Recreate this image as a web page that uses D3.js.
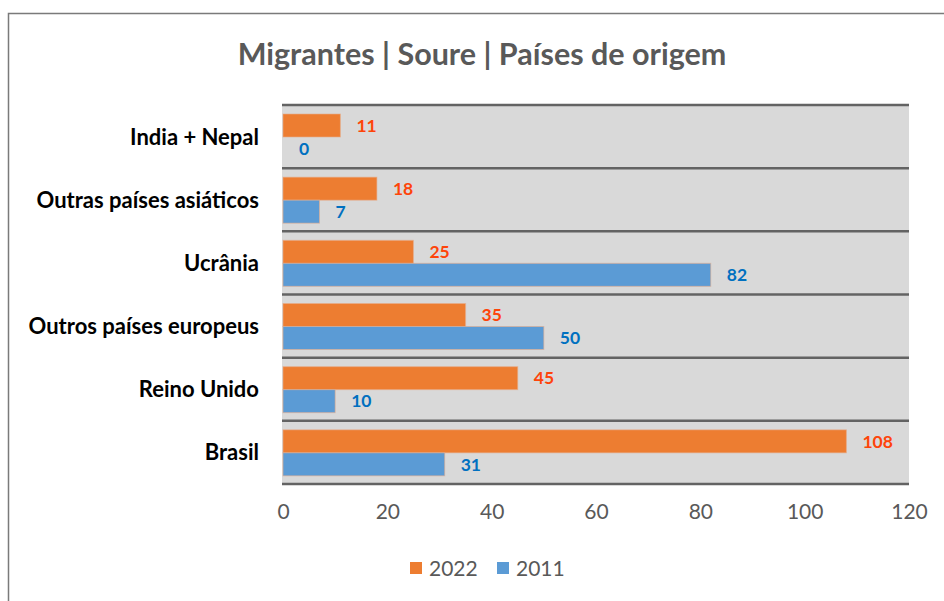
<!DOCTYPE html>
<meta charset="utf-8">
<style>
body { margin: 0; background: #fff; }
svg { display: block; }
.cat { font: bold 22px Lato, sans-serif; fill: #000; }
.tick text { font: 21px Lato, sans-serif; fill: #595959; }
.lbl { font: bold 17.5px Lato, sans-serif; }
.title { font: bold 30.5px Lato, sans-serif; fill: #595959; }
.legend text { font: 21px Lato, sans-serif; fill: #595959; }
</style>
<body>
<script src="https://cdn.jsdelivr.net/npm/d3@7"></script>
<script>

var categories = ["India + Nepal", "Outras países asiáticos", "Ucrânia", "Outros países europeus", "Reino Unido", "Brasil"];
var series = ["2022", "2011"];
var values2022 = [11, 18, 25, 35, 45, 108];
var values2011 = [0, 7, 82, 50, 10, 31];
var xTicks = [0, 20, 40, 60, 80, 100, 120];
var colors = ["#ed7d31", "#5b9bd5"];
var labelColors = ["#fe440a", "#0070c0"];

var W = 944, H = 601;
var margin = {top: 105, right: 35, bottom: 117, left: 282},
    width = W - margin.left - margin.right,
    height = H - margin.top - margin.bottom;

var svg = d3.select("body").append("svg")
    .attr("width", W)
    .attr("height", H);

// outer chart border (runs off the right and bottom edges)
svg.append("rect")
    .attr("x", 8.5).attr("y", 13.5)
    .attr("width", 960).attr("height", 620)
    .attr("fill", "#fff")
    .attr("stroke", "#7a7a7a")
    .attr("stroke-width", 1.5);

svg.append("text")
    .attr("class", "title")
    .attr("x", 482).attr("y", 65)
    .attr("text-anchor", "middle")
    .text("Migrantes | Soure | Países de origem");

var g = svg.append("g")
    .attr("transform", "translate(" + margin.left + "," + margin.top + ")");

var x = d3.scaleLinear().domain([0, 120]).range([1, width]);
var y = d3.scaleBand().domain(categories).range([0, height]);
var inner = d3.scaleBand().domain(series).range([9, 55]);

g.append("rect")
    .attr("width", width).attr("height", height)
    .attr("fill", "#d9d9d9");

// band separators
g.selectAll(".sep")
    .data(categories.concat(["end"]))
  .enter().append("line")
    .attr("x1", 0).attr("x2", width)
    .attr("y1", function(d, i) { return i * y.bandwidth(); })
    .attr("y2", function(d, i) { return i * y.bandwidth(); })
    .attr("stroke", "#636363")
    .attr("stroke-width", 2.5);

var rows = categories.map(function(c, i) {
  return {cat: c, vals: [values2022[i], values2011[i]]};
});

var row = g.selectAll(".row")
    .data(rows)
  .enter().append("g")
    .attr("transform", function(d) { return "translate(0," + y(d.cat) + ")"; });

row.selectAll("rect")
    .data(function(d) { return d.vals; })
  .enter().append("rect")
    .attr("x", x(0))
    .attr("y", function(d, i) { return inner(series[i]); })
    .attr("width", function(d) { return x(d) - x(0); })
    .attr("height", inner.bandwidth())
    .attr("fill", function(d, i) { return colors[i]; })
    .attr("stroke", function(d, i) { return d > 0 ? "#e6ad8c" : "none"; })
    .attr("stroke-opacity", 0.6)
    .attr("stroke-width", 1);

row.selectAll(".lbl")
    .data(function(d) { return d.vals; })
  .enter().append("text")
    .attr("class", "lbl")
    .attr("x", function(d) { return x(d) + 16; })
    .attr("y", function(d, i) { return inner(series[i]) + inner.bandwidth() / 2; })
    .attr("dy", "0.36em")
    .attr("fill", function(d, i) { return labelColors[i]; })
    .text(function(d) { return d; });

row.append("text")
    .attr("class", "cat")
    .attr("x", -23)
    .attr("y", y.bandwidth() / 2)
    .attr("dy", "0.36em")
    .attr("text-anchor", "end")
    .text(function(d) { return d.cat; });

var xAxis = g.append("g")
    .attr("transform", "translate(0," + height + ")")
    .call(d3.axisBottom(x).tickValues(xTicks).tickSize(0).tickPadding(20));
xAxis.select(".domain").remove();

var legend = svg.append("g").attr("class", "legend")
    .attr("transform", "translate(410,568)");
var li = legend.selectAll("g")
    .data(series)
  .enter().append("g")
    .attr("transform", function(d, i) { return "translate(" + (i * 87) + ",0)"; });
li.append("rect")
    .attr("x", 0).attr("y", -6)
    .attr("width", 12).attr("height", 12)
    .attr("fill", function(d, i) { return colors[i]; });
li.append("text")
    .attr("x", 19).attr("dy", "0.36em")
    .text(function(d) { return d; });

</script>
</body>
